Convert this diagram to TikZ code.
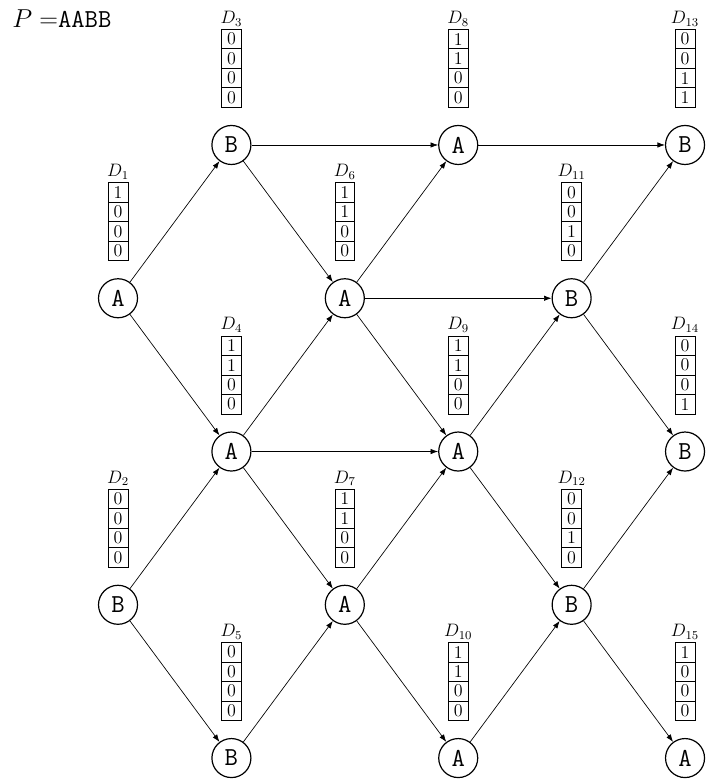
\documentclass[tikz,border=0pt]{standalone}
\usepackage{amsmath,amssymb}
\usepackage{tikz}
\usetikzlibrary{arrows.meta,positioning}

\begin{document}
\begin{tikzpicture}[
    state/.style={circle,draw,thick,minimum size=26pt,inner sep=1pt,font=\LARGE\ttfamily},
    edge/.style={-{Latex[length=5pt,width=3.6pt]},line width=0.45pt},
    bit/.style={draw,line width=0.45pt,minimum width=13.3pt,minimum height=13pt,inner sep=0pt,outer sep=0pt,font=\large},
    dlabel/.style={inner sep=1pt,font=\large}
  ]
    % Grid spacing
    \def\dx{2.657}  % column step
    \def\dy{3.591}  % row step
    \useasboundingbox (-2.765,-14.925) rectangle (13.894,3.397);

    % ---- Pattern ----
    \node[anchor=base west,inner sep=0pt,font=\LARGE] (title) at (-2.484,2.764) {$P=$\texttt{AABB}};

    % ---- States (column/row/letter) ----
    \foreach \c/\r/\s in {0/1/A,0/3/B,1/0/B,1/2/A,1/4/B,2/1/A,2/3/A,
                          3/0/A,3/2/A,3/4/A,4/1/B,4/3/B,5/0/B,5/2/B,5/4/A}
      \node[state] (v\c\r) at (\c*\dx,-\r*\dy) {\s};

    % ---- Transitions ----
    \foreach \a/\b in {01/10,01/12,03/12,03/14,10/30,10/21,12/21,12/32,12/23,
                       14/23,21/30,21/41,21/32,23/32,23/34,30/50,32/41,32/43,
                       34/43,41/50,41/52,43/52,43/54}
      \draw[edge] (v\a) -- (v\b);

    % ---- Vectors D_i (index/column/half-row/bits) ----
    \foreach \n/\c/\m/\ba/\bb/\bc/\bd in {1/0/0.5/1/0/0/0, 2/0/2.5/0/0/0/0,
        3/1/-0.5/0/0/0/0, 4/1/1.5/1/1/0/0, 5/1/3.5/0/0/0/0,
        6/2/0.5/1/1/0/0, 7/2/2.5/1/1/0/0,
        8/3/-0.5/1/1/0/0, 9/3/1.5/1/1/0/0, 10/3/3.5/1/1/0/0,
        11/4/0.5/0/0/1/0, 12/4/2.5/0/0/1/0,
        13/5/-0.5/0/0/1/1, 14/5/1.5/0/0/0/1, 15/5/3.5/1/0/0/0}
    {
      \node[bit] (d\n a) at (\c*\dx,-\m*\dy+0.686) {\ba};
      \node[bit,below=0pt of d\n a] (d\n b) {\bb};
      \node[bit,below=0pt of d\n b] (d\n c) {\bc};
      \node[bit,below=0pt of d\n c] (d\n d) {\bd};
      \node[dlabel,above=1pt of d\n a] (l\n) {$D_{\n}$};
    }
\end{tikzpicture}
\end{document}
